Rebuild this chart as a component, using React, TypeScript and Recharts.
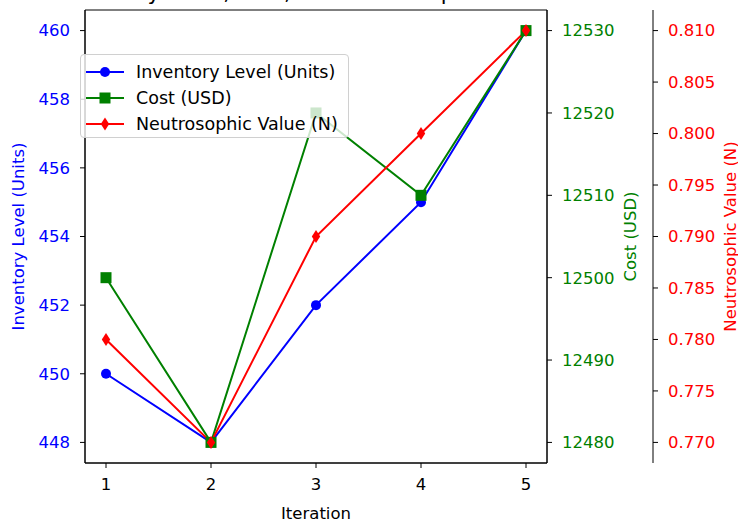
import React from "react";
import { LineChart, Line, XAxis, YAxis, Legend, ReferenceArea } from "recharts";

const iterations = [1, 2, 3, 4, 5];
const inventoryLevel = [450, 448, 452, 455, 460];
const costUsd = [12500, 12480, 12520, 12510, 12530];
const neutrosophicValue = [0.78, 0.77, 0.79, 0.8, 0.81];

const iterationTicks = [1, 2, 3, 4, 5];
const inventoryTicks = [448, 450, 452, 454, 456, 458, 460];
const costTicks = [12480, 12490, 12500, 12510, 12520, 12530];
const neutroTicks = [0.77, 0.775, 0.78, 0.785, 0.79, 0.795, 0.8, 0.805, 0.81];

const data = iterations.map((it, i) => ({
  iteration: it,
  inventory: inventoryLevel[i],
  cost: costUsd[i],
  neutro: neutrosophicValue[i],
}));

const BLUE = "#0000ff";
const GREEN = "#008000";
const RED = "#ff0000";
const FS = 16.5;

const circleDot = (p: any) => (
  <circle key={`inv-${p.index}`} cx={p.cx} cy={p.cy} r={5} fill={BLUE} />
);
const squareDot = (p: any) => (
  <rect key={`cost-${p.index}`} x={p.cx - 5.5} y={p.cy - 5.5} width={11} height={11} fill={GREEN} />
);
const diamondDot = (p: any) => (
  <polygon
    key={`neu-${p.index}`}
    points={`${p.cx},${p.cy - 6.5} ${p.cx + 4.2},${p.cy} ${p.cx},${p.cy + 6.5} ${p.cx - 4.2},${p.cy}`}
    fill={RED}
  />
);

const legendRows = [
  { name: "Inventory Level (Units)", color: BLUE, shape: "circle" },
  { name: "Cost (USD)", color: GREEN, shape: "square" },
  { name: "Neutrosophic Value (N)", color: RED, shape: "diamond" },
];

function LegendBox() {
  return (
    <div
      style={{
        border: "1px solid #d0d0d0",
        borderRadius: 4,
        background: "rgba(255,255,255,0.8)",
        padding: "4px 10px 0 4px",
        fontSize: 17.5,
        color: "#000",
      }}
    >
      {legendRows.map((r) => (
        <div key={r.name} style={{ display: "flex", alignItems: "center", height: 26 }}>
          <svg width={40} height={20} style={{ marginRight: 11 }}>
            <line x1={1} y1={10} x2={39} y2={10} stroke={r.color} strokeWidth={2} />
            {r.shape === "circle" && <circle cx={20} cy={10} r={5} fill={r.color} />}
            {r.shape === "square" && <rect x={14.5} y={4.5} width={11} height={11} fill={r.color} />}
            {r.shape === "diamond" && (
              <polygon points="20,3.5 24.2,10 20,16.5 15.8,10" fill={r.color} />
            )}
          </svg>
          <span style={{ whiteSpace: "nowrap" }}>{r.name}</span>
        </div>
      ))}
    </div>
  );
}

const axisLabel = (text: string, color: string, dx: number) => (p: any) => {
  const vb = p.viewBox;
  const x = vb.x + dx;
  const y = vb.y + vb.height / 2;
  return (
    <text
      x={x}
      y={y}
      fill={color}
      fontSize={FS}
      textAnchor="middle"
      dominantBaseline="central"
      transform={`rotate(-90, ${x}, ${y})`}
    >
      {text}
    </text>
  );
};

export default function App() {
  return (
    <div
      style={{
        position: "absolute",
        left: 0,
        top: 0,
        width: 738,
        height: 522,
        overflow: "hidden",
        background: "#fff",
        fontFamily: "'DejaVu Sans', sans-serif",
      }}
    >
      <div
        style={{
          position: "absolute",
          left: -184,
          width: 1000,
          top: -18,
          lineHeight: "21.3px",
          fontSize: 21.3,
          textAlign: "center",
          whiteSpace: "nowrap",
          color: "#000",
        }}
      >
        Comparison of Inventory Level, Cost, and Neutrosophic Value Across Iterations
      </div>
      <LineChart width={738} height={522} data={data} margin={{ top: 10, right: 0, bottom: 0, left: 0 }}>
        <XAxis
          dataKey="iteration"
          type="number"
          domain={[0.8, 5.2]}
          ticks={iterationTicks}
          height={59}
          stroke="#000"
          tickSize={5}
          tickMargin={10}
          tick={{ fill: "#000", fontSize: FS }}
          label={{
            content: (p: any) => (
              <text
                x={p.viewBox.x + p.viewBox.width / 2}
                y={p.viewBox.y + 50}
                textAnchor="middle"
                dominantBaseline="central"
                fontSize={FS}
                fill="#000"
              >
                Iteration
              </text>
            ),
          }}
        />
        <YAxis
          yAxisId="inv"
          orientation="left"
          width={85}
          domain={[447.4, 460.6]}
          ticks={inventoryTicks}
          stroke="#000"
          tickSize={5}
          tickMargin={10}
          tick={{ fill: BLUE, fontSize: FS }}
          label={{ content: axisLabel("Inventory Level (Units)", BLUE, 18) }}
        />
        <YAxis
          yAxisId="cost"
          orientation="right"
          width={106}
          domain={[12477.5, 12532.5]}
          ticks={costTicks}
          stroke="#000"
          tickSize={5}
          tickMargin={10}
          tick={{ fill: GREEN, fontSize: FS }}
          label={{ content: axisLabel("Cost (USD)", GREEN, 83) }}
        />
        <YAxis
          yAxisId="neu"
          orientation="right"
          width={85}
          domain={[0.768, 0.812]}
          ticks={neutroTicks}
          tickFormatter={(v: number) => v.toFixed(3)}
          stroke="#000"
          tickSize={5}
          tickMargin={10}
          tick={{ fill: RED, fontSize: FS }}
          label={{ content: axisLabel("Neutrosophic Value (N)", RED, 77) }}
        />
        <ReferenceArea
          yAxisId="inv"
          x1={0.8}
          x2={5.2}
          y1={447.4}
          y2={460.6}
          fill="none"
          stroke="#000"
          strokeWidth={1}
        />
        <Line
          yAxisId="inv"
          dataKey="inventory"
          name="Inventory Level (Units)"
          stroke={BLUE}
          strokeWidth={2}
          type="linear"
          dot={circleDot}
          activeDot={false}
          isAnimationActive={false}
        />
        <Line
          yAxisId="cost"
          dataKey="cost"
          name="Cost (USD)"
          stroke={GREEN}
          strokeWidth={2}
          type="linear"
          dot={squareDot}
          activeDot={false}
          isAnimationActive={false}
        />
        <Line
          yAxisId="neu"
          dataKey="neutro"
          name="Neutrosophic Value (N)"
          stroke={RED}
          strokeWidth={2}
          type="linear"
          dot={diamondDot}
          activeDot={false}
          isAnimationActive={false}
        />
        <Legend
          layout="vertical"
          align="center"
          verticalAlign="middle"
          wrapperStyle={{ left: 80, top: 54, width: "auto" }}
          content={() => <LegendBox />}
        />
      </LineChart>
    </div>
  );
}
